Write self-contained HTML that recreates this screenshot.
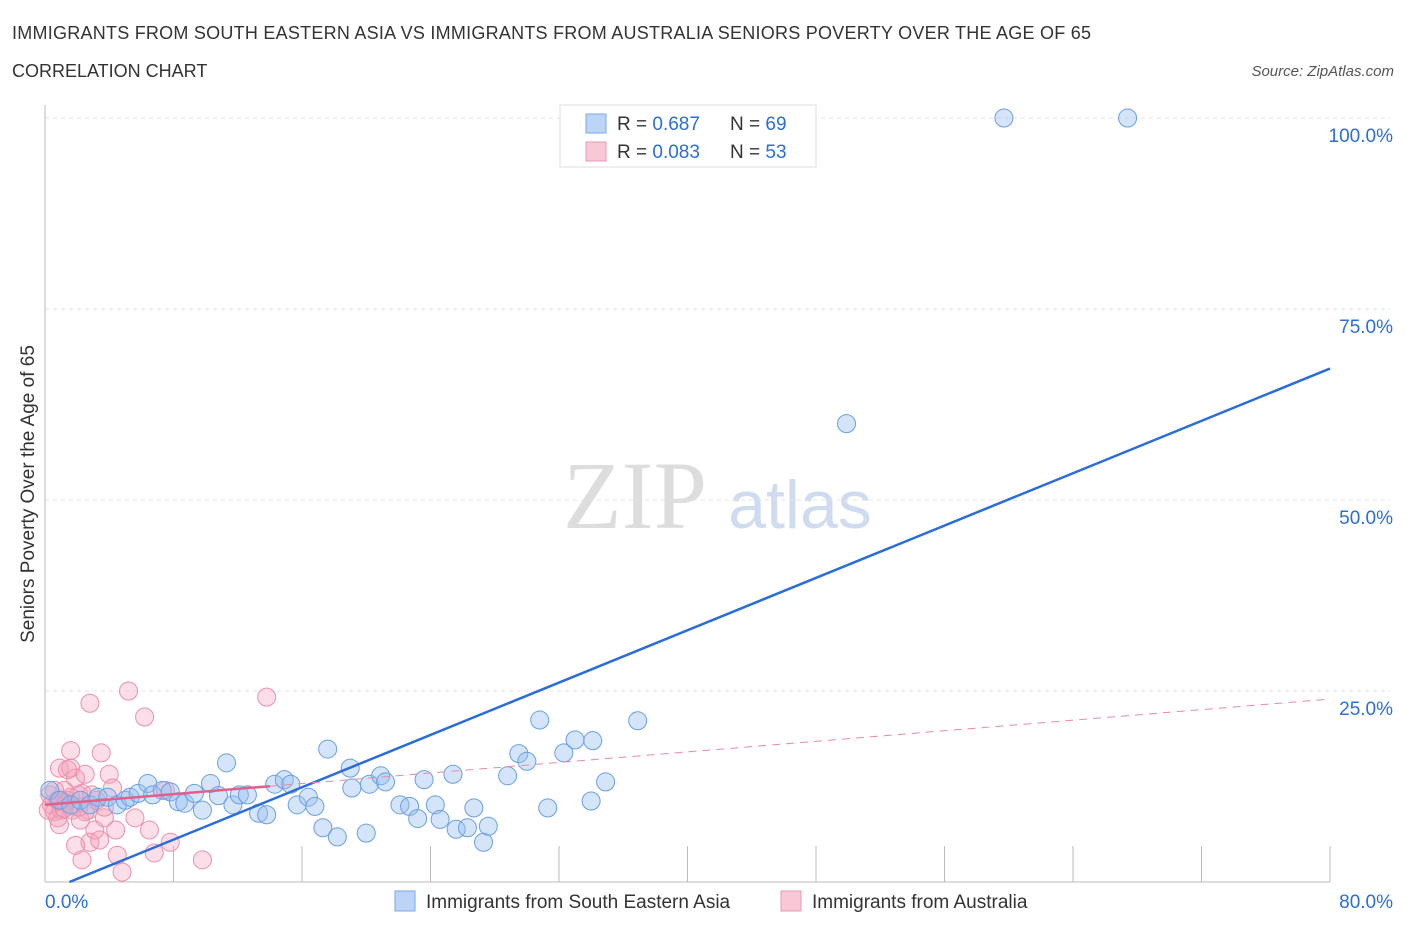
<!DOCTYPE html>
<html><head><meta charset="utf-8"><style>
body{margin:0;background:#fff;font-family:"Liberation Sans",sans-serif;}
#wrap{position:relative;width:1406px;height:930px;}
</style></head><body><div id="wrap">
<svg id="svg" width="1406" height="930" xmlns="http://www.w3.org/2000/svg">
<text x="12" y="39" font-size="18" fill="#333" textLength="1079">IMMIGRANTS FROM SOUTH EASTERN ASIA VS IMMIGRANTS FROM AUSTRALIA SENIORS POVERTY OVER THE AGE OF 65</text>
<text x="12" y="77" font-size="18" fill="#333">CORRELATION CHART</text>
<text x="1394" y="76" font-size="15" fill="#555" text-anchor="end" font-style="italic">Source: ZipAtlas.com</text>
<text x="635" y="528" font-size="96" fill="#ddd" text-anchor="middle" font-family="Liberation Serif">ZIP</text>
<text x="800" y="528" font-size="68" fill="#cfdcf0" text-anchor="middle">atlas</text>
<text transform="translate(34,494) rotate(-90)" font-size="19" fill="#333" text-anchor="middle">Seniors Poverty Over the Age of 65</text>
<g id="grid"></g><g id="pts"></g><g id="lines"></g>
<g>
<rect x="560" y="105" width="256" height="62" fill="#fff" stroke="#ddd"/>
<rect x="586" y="114" width="20" height="19" fill="#bcd4f5" stroke="#7aa7e6"/>
<rect x="586" y="142" width="20" height="19" fill="#f9c8d6" stroke="#ec97b0"/>
<text x="617" y="130" font-size="19" fill="#333">R = <tspan fill="#2b6fd6">0.687</tspan></text>
<text x="730" y="130" font-size="19" fill="#333">N = <tspan fill="#2b6fd6">69</tspan></text>
<text x="617" y="158" font-size="19" fill="#333">R = <tspan fill="#2b6fd6">0.083</tspan></text>
<text x="730" y="158" font-size="19" fill="#333">N = <tspan fill="#2b6fd6">53</tspan></text>
</g>
<g>
<rect x="395" y="891" width="20" height="20" fill="#bcd4f5" stroke="#7aa7e6"/>
<text x="426" y="908" font-size="19" fill="#333">Immigrants from South Eastern Asia</text>
<rect x="781" y="891" width="20" height="20" fill="#f9c8d6" stroke="#ec97b0"/>
<text x="812" y="908" font-size="19" fill="#333">Immigrants from Australia</text>
</g>
</svg></div>
<script>
const yTicks=[25,50,75,100];
const yTickLabels=["25.0%","50.0%","75.0%","100.0%"];
const xTickLabels=["0.0%","80.0%"];
const blueX=[0.3,0.9,1.6,2.2,2.8,3.3,3.9,4.5,5.0,5.3,5.8,6.4,6.7,7.3,7.8,8.3,8.7,9.3,9.8,10.3,10.8,11.3,11.7,12.1,12.6,13.3,13.8,14.3,14.9,15.3,15.7,16.4,16.8,17.3,17.6,18.2,19.0,19.1,20.0,20.2,20.9,21.2,22.1,22.7,23.2,23.6,24.3,24.6,25.4,25.6,26.3,26.7,27.3,27.6,28.8,29.5,30.0,30.8,31.3,32.3,33.0,34.0,34.1,34.9,36.9,49.9,59.7,67.4];
const blueY=[12.0,10.7,10.1,10.7,10.1,11.1,11.1,10.1,10.7,11.1,11.6,12.9,11.4,12.0,11.8,10.5,10.3,11.6,9.4,12.9,11.3,15.6,10.1,11.4,11.4,9.0,8.8,12.8,13.4,12.8,10.1,11.1,9.9,7.1,17.4,5.9,14.9,12.3,6.4,12.8,13.9,13.1,10.1,9.9,8.3,13.4,10.1,8.2,14.1,6.9,7.1,9.7,5.2,7.3,13.9,16.8,15.8,21.2,9.7,16.9,18.6,10.6,18.5,13.1,21.1,60.0,100,100];
const pinkX=[0.3,0.4,0.6,0.8,0.9,1.0,1.2,1.4,1.6,1.6,1.7,1.9,2.1,2.2,2.3,2.5,2.7,2.8,3.1,3.4,3.5,3.7,4.0,4.4,4.5,4.8,5.2,5.6,6.2,6.5,6.8,7.5,7.8,9.8,13.8,2.8,2.3,1.9,0.9,1.4,2.5,2.9,3.7,4.2,0.2,0.6,1.0,1.3,2.1,0.8,3.2,1.6,1.2];
const pinkY=[11.4,10.1,9.2,10.7,14.9,9.4,12.0,10.7,17.2,14.9,9.4,13.6,11.4,8.1,11.6,14.1,9.4,5.2,6.8,5.5,16.9,8.4,14.1,6.8,3.5,1.3,25.0,8.4,21.6,6.8,3.8,12.0,5.2,2.9,24.2,23.4,2.9,4.8,7.5,14.7,9.2,11.4,9.8,12.3,9.4,12.0,10.7,10.3,9.8,8.4,10.7,11.1,9.6];
const NS="http://www.w3.org/2000/svg";
const X0=45,X1=1330,Y0=882,YS=7.64;
function sx(v){return X0+(X1-X0)*v/80;}
function sy(v){return Y0-v*YS;}
function mk(t,a,p){const e=document.createElementNS(NS,t);for(const k in a)e.setAttribute(k,a[k]);p.appendChild(e);return e;}
const grid=document.getElementById('grid'),svg=document.getElementById('svg');
yTicks.forEach((t,i)=>{
 const l=mk('line',{x1:X0,x2:X1+60,y1:sy(t),y2:sy(t),stroke:'#e3e3e3','stroke-dasharray':'4,4'},grid);
 
 
 const tx=mk('text',{x:1393,y:sy(t)+24,'font-size':19,fill:'#2b6fd6','text-anchor':'end'},svg);
 tx.textContent=yTickLabels[i];
 
 
});
mk('line',{x1:X0,x2:X0,y1:105,y2:Y0,stroke:'#bbb'},grid);
mk('line',{x1:X0,x2:X1,y1:Y0,y2:Y0,stroke:'#bbb'},grid);
for(let i=1;i<=10;i++){mk('line',{x1:sx(i*8),x2:sx(i*8),y1:846,y2:Y0,stroke:'#bbb'},grid);}
xTickLabels.forEach((s,i)=>{const tx=mk('text',{x:i?1393:45,y:908,'font-size':19,fill:'#2b6fd6','text-anchor':i?'end':'start'},svg);tx.textContent=s;
 
 });
const pts=document.getElementById('pts');
pinkX.forEach((x,i)=>{const c=mk('circle',{cx:sx(x),cy:sy(pinkY[i]),r:9,fill:'rgba(244,160,185,0.35)',stroke:'#ec8fab','stroke-width':1},pts);
 
 });
blueX.forEach((x,i)=>{const c=mk('circle',{cx:sx(x),cy:sy(blueY[i]),r:9,fill:'rgba(150,190,240,0.4)',stroke:'#6a9fe3','stroke-width':1},pts);
 
 });
const lines=document.getElementById('lines');
function fit(xs,ys){const n=xs.length;let mx=0,my=0;for(let i=0;i<n;i++){mx+=xs[i];my+=ys[i];}mx/=n;my/=n;let a=0,b=0;for(let i=0;i<n;i++){a+=(xs[i]-mx)*(ys[i]-my);b+=(xs[i]-mx)**2;}const s=a/b;return [s,my-s*mx];}
const [bs,bi]=fit(blueX,blueY);
const x0b=Math.max(0,-bi/bs);
const bl=mk('line',{x1:sx(x0b),y1:sy(bs*x0b+bi),x2:sx(80),y2:sy(bs*80+bi),stroke:'#2a6dd8','stroke-width':2.5},lines);


const [ps,pi]=fit(pinkX,pinkY);
const pl=mk('line',{x1:sx(0),y1:sy(pi),x2:sx(14),y2:sy(ps*14+pi),stroke:'#e0608a','stroke-width':2.5},lines);


const pd=mk('line',{x1:sx(14),y1:sy(ps*14+pi),x2:sx(80),y2:sy(ps*80+pi),stroke:'#e88aa8','stroke-width':1,'stroke-dasharray':'8,6'},lines);


</script></body></html>
